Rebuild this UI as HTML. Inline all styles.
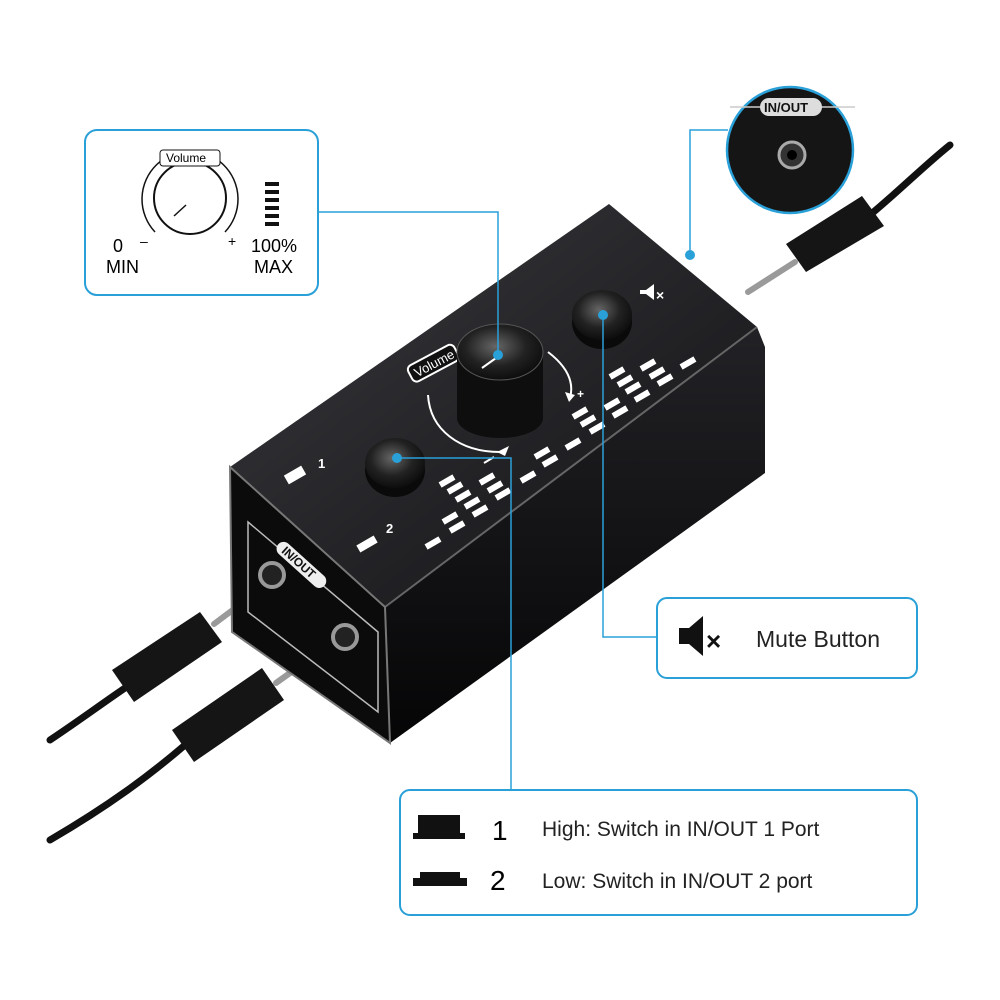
<!DOCTYPE html>
<html><head><meta charset="utf-8"><style>
html,body{margin:0;padding:0;background:#fff;}
svg{display:block;}
text{font-family:"Liberation Sans",sans-serif;}
</style></head><body>
<svg width="1000" height="1000" viewBox="0 0 1000 1000" xmlns="http://www.w3.org/2000/svg">
<defs>
<linearGradient id="top" x1="0" y1="0" x2="1" y2="1"><stop offset="0" stop-color="#3a3a3e"/><stop offset="1" stop-color="#111114"/></linearGradient>
<linearGradient id="side" x1="0" y1="0" x2="0" y2="1"><stop offset="0" stop-color="#222226"/><stop offset="1" stop-color="#050506"/></linearGradient>
<radialGradient id="knob" cx="0.45" cy="0.4" r="0.7"><stop offset="0" stop-color="#666"/><stop offset="0.5" stop-color="#222"/><stop offset="1" stop-color="#050505"/></radialGradient>
<rect id="b" x="-8" y="-3" width="16" height="6"/>
</defs>

<!-- cables -->
<g stroke="#111" stroke-linecap="round" fill="none">
<path d="M50,740 C80,720 100,705 125,688" stroke-width="7"/>
<path d="M50,840 C110,805 150,775 185,745" stroke-width="7"/>
<path d="M870,215 C900,190 925,165 950,145" stroke-width="7"/>
</g>
<g fill="#151515">
<path d="M112,670 L200,612 L222,642 L134,702 Z"/>
<path d="M172,730 L262,668 L284,700 L194,762 Z"/>
<path d="M786,244 L862,196 L884,226 L806,272 Z"/>
</g>
<g stroke="#9a9a9a" stroke-width="6" stroke-linecap="round">
<line x1="214" y1="624" x2="262" y2="588"/>
<line x1="276" y1="683" x2="322" y2="650"/>
<line x1="795" y1="262" x2="748" y2="292"/>
</g>

<!-- device -->
<polygon points="230,467 609,204 757,327 385,607" fill="url(#top)"/>
<polygon points="385,607 757,327 765,347 765,473 390,743" fill="url(#side)"/>
<line x1="385" y1="607" x2="757" y2="327" stroke="#666" stroke-width="2"/>
<polygon points="230,467 385,607 390,743 232,632" fill="#0b0b0c" stroke="#777" stroke-width="2"/>
<polygon points="248,522 378,632 378,712 248,612" fill="none" stroke="#bbb" stroke-width="1.5"/>
<circle cx="272" cy="575" r="12" fill="#222" stroke="#999" stroke-width="4"/>
<circle cx="345" cy="637" r="12" fill="#222" stroke="#999" stroke-width="4"/>
<g transform="rotate(42 300 565)"><rect x="270" y="557" width="62" height="14" rx="7" fill="#eee"/><text x="277" y="568" font-size="12" fill="#111" font-weight="bold">IN/OUT</text></g>

<!-- top face markings -->
<g fill="#fff">
<rect x="285" y="470" width="20" height="10" transform="rotate(-30 295 475)"/><text x="318" y="468" font-size="13" font-weight="bold">1</text>
<rect x="357" y="540" width="20" height="8" transform="rotate(-30 367 544)"/><text x="386" y="533" font-size="13" font-weight="bold">2</text>
<g>
<use href="#b" transform="translate(433,543) rotate(-30)"/>
<use href="#b" transform="translate(450,518) rotate(-30)"/><use href="#b" transform="translate(457,527) rotate(-30)"/>
<use href="#b" transform="translate(447,481) rotate(-30)"/><use href="#b" transform="translate(455,488) rotate(-30)"/><use href="#b" transform="translate(463,496) rotate(-30)"/><use href="#b" transform="translate(472,503) rotate(-30)"/><use href="#b" transform="translate(480,511) rotate(-30)"/>
<use href="#b" transform="translate(487,479) rotate(-30)"/><use href="#b" transform="translate(495,487) rotate(-30)"/><use href="#b" transform="translate(503,494) rotate(-30)"/>
<use href="#b" transform="translate(528,477) rotate(-30)"/>
<use href="#b" transform="translate(542,453) rotate(-30)"/><use href="#b" transform="translate(550,461) rotate(-30)"/>
<use href="#b" transform="translate(573,444) rotate(-30)"/>
<use href="#b" transform="translate(580,413) rotate(-30)"/><use href="#b" transform="translate(588,421) rotate(-30)"/><use href="#b" transform="translate(597,428) rotate(-30)"/>
<use href="#b" transform="translate(612,404) rotate(-30)"/><use href="#b" transform="translate(620,412) rotate(-30)"/>
<use href="#b" transform="translate(617,373) rotate(-30)"/><use href="#b" transform="translate(625,381) rotate(-30)"/><use href="#b" transform="translate(633,388) rotate(-30)"/><use href="#b" transform="translate(642,396) rotate(-30)"/>
<use href="#b" transform="translate(648,365) rotate(-30)"/><use href="#b" transform="translate(657,373) rotate(-30)"/><use href="#b" transform="translate(665,380) rotate(-30)"/>
<use href="#b" transform="translate(688,363) rotate(-30)"/>
</g>
<path d="M640,290 l6,0 l8,-6 l0,16 l-8,-6 l-6,0 z"/><text x="656" y="300" font-size="14" font-weight="bold">×</text>
<text x="577" y="398" font-size="12" font-weight="bold">+</text>
<path d="M497,452 l12,-6 l-4,10 z"/><path d="M569,402 l-4,-10 l10,3 z"/>
</g>
<path d="M500,452 C460,452 430,430 428,395 M548,352 C565,365 575,380 570,398" stroke="#fff" stroke-width="2" fill="none"/>
<line x1="484" y1="463" x2="494" y2="457" stroke="#fff" stroke-width="2"/>
<g transform="rotate(-28 432 365)"><rect x="408" y="355" width="52" height="18" rx="5" fill="#111" stroke="#fff" stroke-width="2"/><text x="413" y="369" font-size="13" fill="#fff">Volume</text></g>

<!-- knobs -->
<path d="M457,352 L457,418 A43,20 0 0 0 543,418 L543,352 Z" fill="#0e0e0e"/>
<ellipse cx="500" cy="352" rx="43" ry="28" fill="url(#knob)" stroke="#555"/>
<line x1="482" y1="368" x2="496" y2="358" stroke="#fff" stroke-width="2"/>
<ellipse cx="395" cy="470" rx="30" ry="27" fill="#0a0a0a"/>
<ellipse cx="395" cy="463" rx="30" ry="25" fill="url(#knob)"/>
<ellipse cx="602" cy="322" rx="30" ry="27" fill="#0a0a0a"/>
<ellipse cx="602" cy="315" rx="30" ry="25" fill="url(#knob)"/>

<!-- inset circle -->
<circle cx="790" cy="150" r="63" fill="#151515" stroke="#2aa0d8" stroke-width="2.5"/>
<line x1="730" y1="107" x2="855" y2="107" stroke="#ccc" stroke-width="1.5"/>
<rect x="760" y="98" width="62" height="18" rx="9" fill="#ddd"/>
<text x="764" y="112" font-size="13" font-weight="bold" fill="#111">IN/OUT</text>
<circle cx="792" cy="155" r="13" fill="#333" stroke="#aaa" stroke-width="3"/>
<circle cx="792" cy="155" r="5" fill="#000"/>

<!-- connector lines -->
<g stroke="#2aa0d8" stroke-width="1.5" fill="none">
<polyline points="318,212 498,212 498,355"/>
<polyline points="728,130 690,130 690,255"/>
<polyline points="603,315 603,637 657,637"/>
<polyline points="397,458 511,458 511,790"/>
</g>
<g fill="#2aa0d8">
<circle cx="498" cy="355" r="5"/><circle cx="690" cy="255" r="5"/><circle cx="603" cy="315" r="5"/><circle cx="397" cy="458" r="5"/>
</g>

<!-- volume box -->
<rect x="85" y="130" width="233" height="165" rx="12" fill="#fff" stroke="#2aa0d8" stroke-width="2"/>
<circle cx="190" cy="198" r="36" fill="none" stroke="#111" stroke-width="2"/>
<path d="M155,232 A48,48 0 1 1 225,232" fill="none" stroke="#111" stroke-width="1.5"/>
<line x1="174" y1="216" x2="186" y2="205" stroke="#111" stroke-width="1.5"/>
<rect x="160" y="150" width="60" height="16" rx="3" fill="#fff" stroke="#111"/>
<text x="166" y="162" font-size="12">Volume</text>
<g fill="#111"><rect x="265" y="182" width="14" height="4"/><rect x="265" y="190" width="14" height="4"/><rect x="265" y="198" width="14" height="4"/><rect x="265" y="206" width="14" height="4"/><rect x="265" y="214" width="14" height="4"/><rect x="265" y="222" width="14" height="4"/></g>
<text x="113" y="252" font-size="18">0</text><text x="140" y="246" font-size="14">–</text>
<text x="228" y="246" font-size="14">+</text>
<text x="106" y="273" font-size="18">MIN</text>
<text x="251" y="252" font-size="18">100%</text>
<text x="254" y="273" font-size="18">MAX</text>

<!-- mute box -->
<rect x="657" y="598" width="260" height="80" rx="10" fill="#fff" stroke="#2aa0d8" stroke-width="2"/>
<path d="M679,628 h10 l14,-12 v40 l-14,-12 h-10 z" fill="#111"/>
<text x="706" y="650" font-size="26" font-weight="bold" fill="#111">×</text>
<text x="756" y="647" font-size="23" fill="#222">Mute Button</text>

<!-- switch box -->
<rect x="400" y="790" width="517" height="125" rx="10" fill="#fff" stroke="#2aa0d8" stroke-width="2"/>
<rect x="418" y="815" width="42" height="22" fill="#111"/><rect x="413" y="833" width="52" height="6" fill="#111"/>
<text x="492" y="840" font-size="28">1</text>
<text x="542" y="836" font-size="21" fill="#222">High: Switch in IN/OUT 1 Port</text>
<rect x="420" y="872" width="40" height="10" fill="#111"/><rect x="413" y="878" width="54" height="8" fill="#111"/>
<text x="490" y="890" font-size="28">2</text>
<text x="542" y="888" font-size="21" fill="#222">Low: Switch in IN/OUT 2 port</text>
</svg>
</body></html>
